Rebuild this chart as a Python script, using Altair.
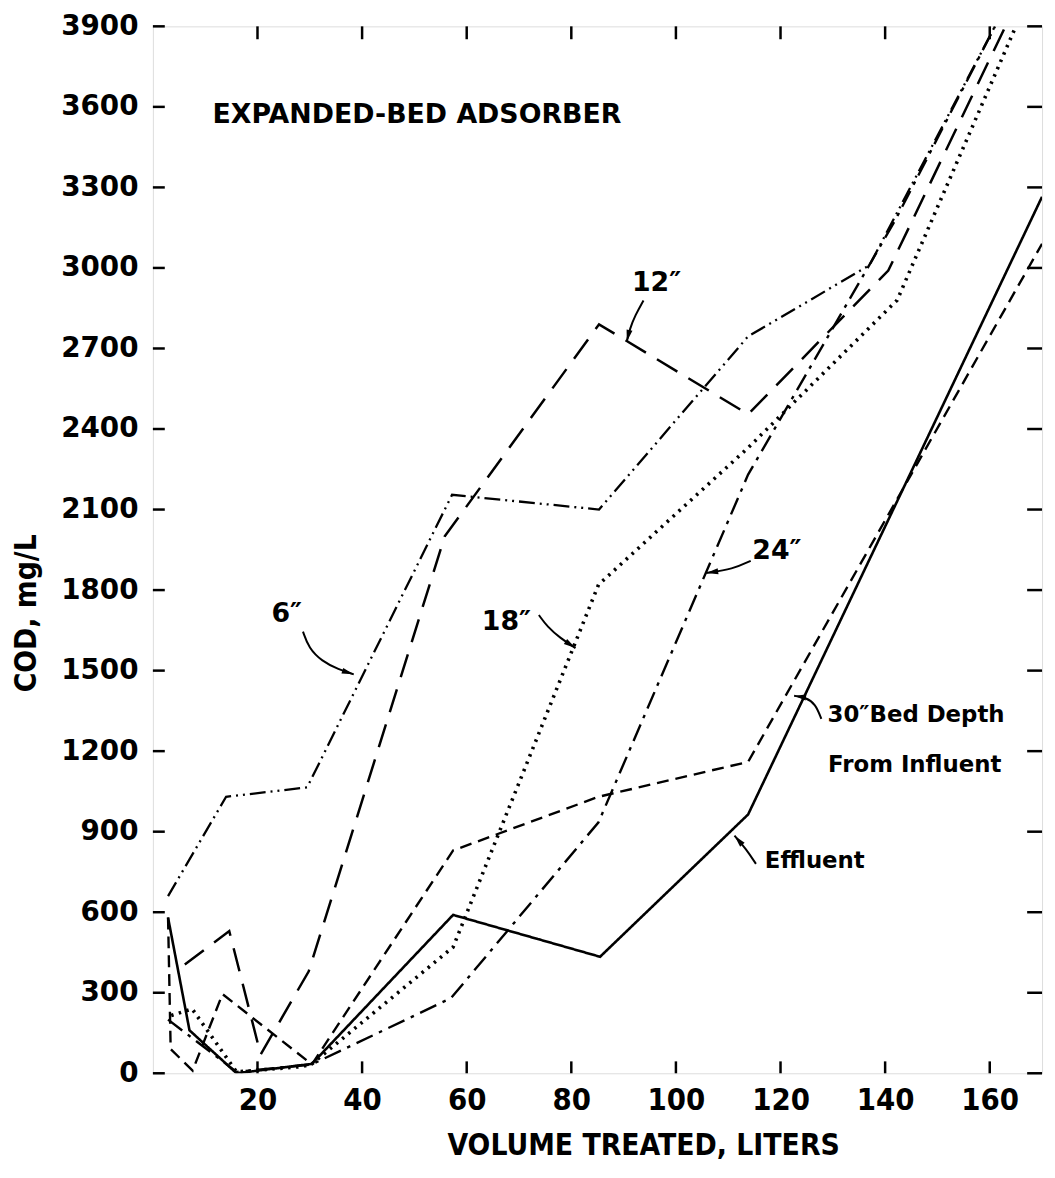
import math
import altair as alt
import pandas as pd

# ---------------- data ----------------
series_names = ["6″", "12″", "18″", "24″", "30″", "Effluent"]

x_6 = [2.9, 14.0, 29.5, 57.2, 85.3, 113.8, 137.0, 161.0]
y_6 = [660, 1030, 1065, 2155, 2100, 2745, 3010, 3900]

x_12 = [6.1, 14.6, 20.6, 29.8, 55.8, 85.3, 113.8, 140.6, 163.0]
y_12 = [405, 530, 70, 380, 2000, 2790, 2455, 2990, 3900]

x_18 = [3.5, 7.5, 16.0, 28.5, 30.4, 57.4, 85.2, 113.8, 142.3, 165.0]
y_18 = [215, 240, 5, 25, 35, 470, 1820, 2330, 2880, 3900]

x_24 = [2.9, 16.0, 30.4, 57.0, 85.2, 113.8, 142.0, 161.0]
y_24 = [200, 5, 33, 280, 935, 2230, 3180, 3900]

x_30 = [2.9, 3.4, 7.6, 13.3, 30.4, 57.4, 85.2, 113.8, 170.0]
y_30 = [580, 90, 10, 295, 33, 830, 1030, 1160, 3090]

x_eff = [2.9, 7.0, 16.0, 30.4, 57.4, 85.5, 113.8, 170.0]
y_eff = [580, 160, 0, 35, 590, 434, 964, 3265]

x_ticks = [20, 40, 60, 80, 100, 120, 140, 160]
y_ticks = [0, 300, 600, 900, 1200, 1500, 1800, 2100, 2400, 2700, 3000, 3300, 3600, 3900]

# annotation labels
lab_center_text = ["12″", "6″", "18″", "24″"]
lab_center_x = [96.3, 25.6, 67.6, 119.3]
lab_center_y = [2945, 1712, 1682, 1947]

lab_left_text = ["30″Bed Depth", "From Influent", "Effluent"]
lab_left_x = [129.0, 129.1, 117.0]
lab_left_y = [1333, 1148, 791]

title_text = ["EXPANDED-BED ADSORBER"]
title_x = [11.4]
title_y = [3571]

# annotation arrows (tail -> tip)
arrow_6_x = [28.7, 29.8, 32.3, 35.5, 38.4]
arrow_6_y = [1645, 1584, 1535, 1504, 1486]
arrow_12_x = [93.8, 92.2, 91.2, 90.6]
arrow_12_y = [2879, 2823, 2774, 2725]
arrow_18_x = [73.8, 75.4, 77.9, 80.8]
arrow_18_y = [1707, 1664, 1621, 1584]
arrow_24_x = [114.3, 110.9, 105.8]
arrow_24_y = [1909, 1878, 1864]
arrow_30_x = [127.8, 126.7, 124.8, 122.6]
arrow_30_y = [1320, 1376, 1400, 1406]
arrow_eff_x = [115.3, 113.4, 111.2]
arrow_eff_y = [780, 836, 885]

# ---------------- layout / style ----------------
W, H = 896, 1055
XMAX, YMAX = 170, 3900
FONT_BOLD = "DejaVu Sans"
FONT_NARROW = "Liberation Sans Narrow, DejaVu Sans Condensed, Liberation Sans, sans-serif"

xs = alt.Scale(domain=[0, XMAX], nice=False, zero=False)
ys = alt.Scale(domain=[0, YMAX], nice=False, zero=False)

series_xy = {
    "6″": (x_6, y_6),
    "12″": (x_12, y_12),
    "18″": (x_18, y_18),
    "24″": (x_24, y_24),
    "30″": (x_30, y_30),
    "Effluent": (x_eff, y_eff),
}
styles = {
    "6″": dict(strokeDash=[16, 5, 2, 5, 2, 5], strokeWidth=2.3),
    "12″": dict(strokeDash=[24, 13], strokeWidth=2.5),
    "18″": dict(strokeDash=[2.5, 5.5], strokeWidth=3.6),
    "24″": dict(strokeDash=[18, 7, 3.5, 7], strokeWidth=2.4),
    "30″": dict(strokeDash=[12, 7], strokeWidth=2.4),
    "Effluent": dict(strokeDash=[1, 0], strokeWidth=2.6),
}

layers = []

# axes (labels only) carried by an invisible base layer
base_df = pd.DataFrame({"x": [0, XMAX], "y": [0, YMAX]})
axes_layer = alt.Chart(base_df).mark_point(opacity=0).encode(
    x=alt.X("x:Q", scale=xs, axis=alt.Axis(
        values=x_ticks, title="VOLUME TREATED, LITERS", grid=False, domain=False, ticks=False,
        format="d",
        labelFont=FONT_NARROW, labelFontSize=31, labelFontWeight="bold", labelColor="black",
        labelPadding=12, labelFlush=False,
        titleFont=FONT_NARROW, titleFontSize=30, titleFontWeight="bold", titleColor="black",
        titleX=494, titleY=73, titleAlign="center", titleBaseline="middle", titleAnchor="start")),
    y=alt.Y("y:Q", scale=ys, axis=alt.Axis(
        values=y_ticks, title="COD, mg/L", grid=False, domain=False, ticks=False,
        format="d",
        labelFont=FONT_BOLD, labelFontSize=28, labelFontWeight="bold", labelColor="black",
        labelPadding=15, labelFlush=False,
        titleFont=FONT_NARROW, titleFontSize=30, titleFontWeight="bold", titleColor="black",
        titleX=-127, titleY=591, titleAngle=270, titleAlign="center", titleBaseline="middle",
        titleAnchor="start")),
)
layers.append(axes_layer)

# inward tick marks on all four sides
xt = pd.DataFrame({"v": x_ticks})
yt = pd.DataFrame({"v": y_ticks})
tick_style = dict(color="black", strokeWidth=2.5)
layers.append(alt.Chart(xt).mark_rule(**tick_style).encode(
    x=alt.X("v:Q", scale=xs), y=alt.value(H), y2=alt.value(H - 12)))
layers.append(alt.Chart(xt).mark_rule(**tick_style).encode(
    x=alt.X("v:Q", scale=xs), y=alt.value(0), y2=alt.value(13)))
layers.append(alt.Chart(yt).mark_rule(**tick_style).encode(
    y=alt.Y("v:Q", scale=ys), x=alt.value(0), x2=alt.value(12)))
layers.append(alt.Chart(yt).mark_rule(**tick_style).encode(
    y=alt.Y("v:Q", scale=ys), x=alt.value(W), x2=alt.value(W - 15)))

# data lines
for name in series_names:
    xv, yv = series_xy[name]
    df = pd.DataFrame({"x": xv, "y": yv, "o": list(range(len(xv))), "series": name})
    layers.append(alt.Chart(df).mark_line(color="black", clip=True, strokeCap="butt",
                                          **styles[name]).encode(
        x=alt.X("x:Q", scale=xs), y=alt.Y("y:Q", scale=ys), order="o:Q"))

# arrows
sx, sy = W / XMAX, H / YMAX
arrow_path = "M0,0L0.55,2.2L-0.55,2.2Z"
for ax_, ay_ in [(arrow_6_x, arrow_6_y), (arrow_12_x, arrow_12_y), (arrow_18_x, arrow_18_y),
                 (arrow_24_x, arrow_24_y), (arrow_30_x, arrow_30_y), (arrow_eff_x, arrow_eff_y)]:
    adf = pd.DataFrame({"x": ax_, "y": ay_, "o": list(range(len(ax_)))})
    layers.append(alt.Chart(adf).mark_line(color="black", strokeWidth=2, interpolate="basis").encode(
        x=alt.X("x:Q", scale=xs), y=alt.Y("y:Q", scale=ys), order="o:Q"))
    dx = (ax_[-1] - ax_[-2]) * sx
    dy = (ay_[-1] - ay_[-2]) * sy
    ang = (math.degrees(math.atan2(dx, dy)) + 360) % 360
    hdf = pd.DataFrame({"x": [ax_[-1]], "y": [ay_[-1]]})
    layers.append(alt.Chart(hdf).mark_point(shape=arrow_path, filled=True, color="black",
                                            size=120, angle=ang, opacity=1).encode(
        x=alt.X("x:Q", scale=xs), y=alt.Y("y:Q", scale=ys)))

# text annotations
cdf = pd.DataFrame({"t": lab_center_text, "x": lab_center_x, "y": lab_center_y})
layers.append(alt.Chart(cdf).mark_text(font=FONT_BOLD, fontSize=27, fontWeight="bold",
                                       align="center", baseline="middle", color="black").encode(
    x=alt.X("x:Q", scale=xs), y=alt.Y("y:Q", scale=ys), text="t:N"))
ldf = pd.DataFrame({"t": lab_left_text, "x": lab_left_x, "y": lab_left_y})
layers.append(alt.Chart(ldf).mark_text(font=FONT_BOLD, fontSize=23, fontWeight="bold",
                                       align="left", baseline="middle", color="black").encode(
    x=alt.X("x:Q", scale=xs), y=alt.Y("y:Q", scale=ys), text="t:N"))
tdf = pd.DataFrame({"t": title_text, "x": title_x, "y": title_y})
layers.append(alt.Chart(tdf).mark_text(font=FONT_BOLD, fontSize=27, fontWeight="bold",
                                       align="left", baseline="middle", color="black").encode(
    x=alt.X("x:Q", scale=xs), y=alt.Y("y:Q", scale=ys), text="t:N"))

chart = alt.layer(*layers).properties(
    width=W, height=H,
    autosize=alt.AutoSizeParams(type="none"),
    padding={"left": 146, "top": 14, "right": 5, "bottom": 95},
).configure_view(stroke="black", strokeWidth=3).configure(background="white")

chart.save("out.html", embed_options={"renderer": "svg", "actions": False})
